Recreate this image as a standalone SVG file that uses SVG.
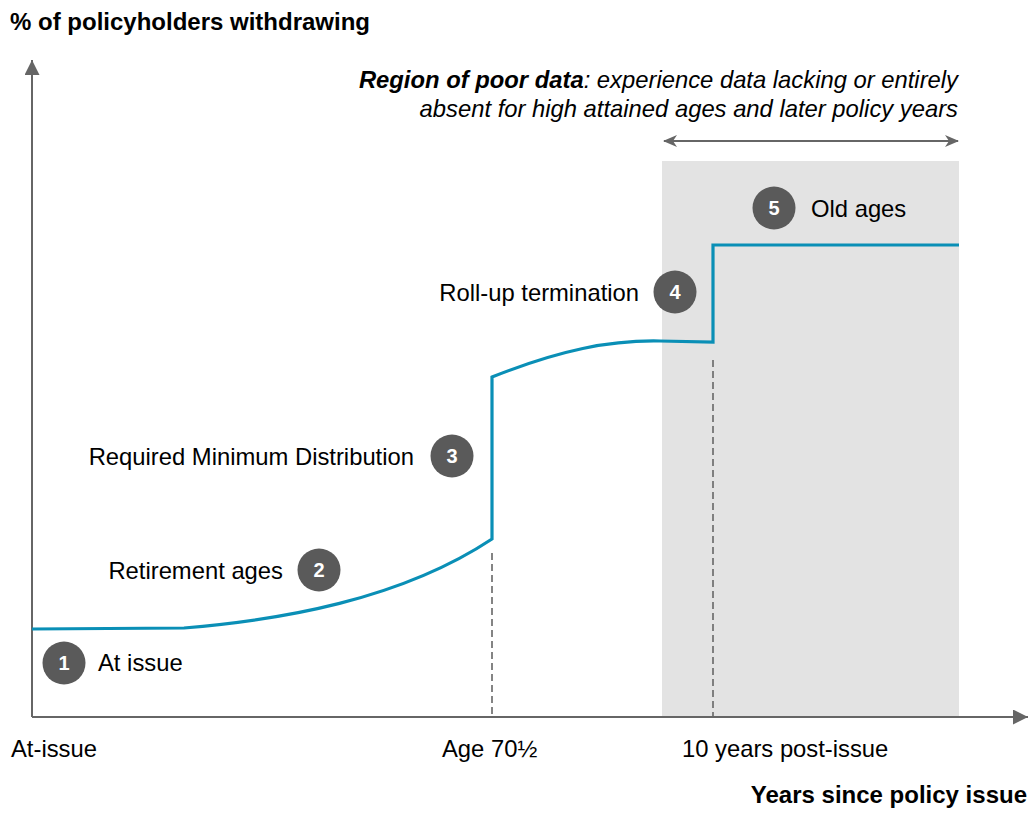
<svg xmlns="http://www.w3.org/2000/svg" width="1029" height="818" viewBox="0 0 1029 818">
<style>
text{font-family:"Liberation Sans",Arial,sans-serif;fill:#000;}
.lbl{font-size:23.8px;}
.bold{font-weight:bold;font-size:24px;}
.num{font-size:20px;font-weight:bold;fill:#fff;text-anchor:middle;}
.badge{fill:#5a5a5a;}
.axis{stroke:#666;stroke-width:2;fill:none;}
.dash{stroke:#666;stroke-width:1.6;stroke-dasharray:7 4;fill:none;}
.curve{stroke:#0a8fb6;stroke-width:3.2;fill:none;stroke-linejoin:miter;}
</style>
<defs>
<marker id="ah" viewBox="0 0 14 12" refX="13" refY="6" markerWidth="14" markerHeight="12" markerUnits="userSpaceOnUse" orient="auto-start-reverse">
<path d="M0,0 L14,6 L0,12 L4,6 z" fill="#666"/>
</marker>
<marker id="tri" viewBox="0 0 10 10" refX="10" refY="5" markerWidth="15" markerHeight="15" markerUnits="userSpaceOnUse" orient="auto">
<path d="M0,0 L10,5 L0,10 z" fill="#666"/>
</marker>
</defs>
<rect id="poor-data-region" x="662" y="161" width="297" height="556" fill="#e3e3e3"/>
<g id="connectors">
<line class="axis" x1="32" y1="717" x2="32" y2="60" marker-end="url(#tri)"/>
<line class="axis" x1="32" y1="717" x2="1028" y2="717" marker-end="url(#tri)"/>
<line class="dash" x1="492" y1="553" x2="492" y2="717"/>
<line class="dash" x1="713" y1="360" x2="713" y2="717"/>
<line x1="664" y1="141" x2="958" y2="141" stroke="#666" stroke-width="2" marker-start="url(#ah)" marker-end="url(#ah)"/>
<path class="curve" d="M32,629 L184,628 C280,620 400,600 492,539 L492,377 C560,350 610,340 660,341 L713,342 L713,245 L959,245"/>
</g>
<text id="y-title" class="bold" x="10" y="30">% of policyholders withdrawing</text>
<text id="x-title" class="bold" x="1027" y="803" text-anchor="end">Years since policy issue</text>
<g id="region-note">
<text class="lbl" x="958" y="88" text-anchor="end" font-style="italic"><tspan font-weight="bold">Region of poor data</tspan>: experience data lacking or entirely</text>
<text class="lbl" x="958" y="117" text-anchor="end" font-style="italic">absent for high attained ages and later policy years</text>
</g>
<text id="tick-at-issue" class="lbl" x="11" y="757">At-issue</text>
<text id="tick-age70" class="lbl" x="442" y="757">Age 70½</text>
<text id="tick-10y" class="lbl" x="682" y="757">10 years post-issue</text>
<g id="node1">
<circle class="badge" cx="64" cy="663" r="21.5"/>
<text class="num" x="64" y="670">1</text>
<text class="lbl" x="98" y="671">At issue</text>
</g>
<g id="node2">
<circle class="badge" cx="319" cy="570" r="21.5"/>
<text class="num" x="319" y="577">2</text>
<text class="lbl" x="283" y="579" text-anchor="end">Retirement ages</text>
</g>
<g id="node3">
<circle class="badge" cx="452" cy="456" r="21.5"/>
<text class="num" x="452" y="463">3</text>
<text class="lbl" x="414" y="465" text-anchor="end">Required Minimum Distribution</text>
</g>
<g id="node4">
<circle class="badge" cx="675" cy="292" r="21.5"/>
<text class="num" x="675" y="299">4</text>
<text class="lbl" x="639" y="301" text-anchor="end">Roll-up termination</text>
</g>
<g id="node5">
<circle class="badge" cx="774" cy="208" r="21.5"/>
<text class="num" x="774" y="215">5</text>
<text class="lbl" x="811" y="217">Old ages</text>
</g>
</svg>
